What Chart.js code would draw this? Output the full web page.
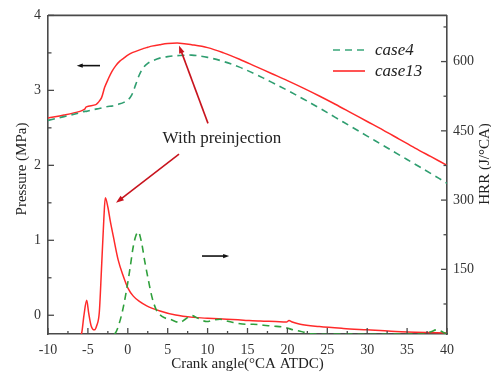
<!DOCTYPE html>
<html>
<head>
<meta charset="utf-8">
<script src="https://cdn.jsdelivr.net/npm/chart.js@4.4.1/dist/chart.umd.min.js"></script>
<style>
  html, body { margin: 0; padding: 0; background: #fff; }
  #wrap { width: 491px; height: 378px; }
</style>
</head>
<body>
<div id="wrap"><canvas id="chart"></canvas></div>
<script>
// Cylinder pressure, left axis (MPa)
const anglePressure = [-10, -8, -6, -5.4, -5.2, -4, -3.7, -3.3, -2.9, -2.5, -2, -1.5, -1, -0.5, 0, 0.5, 1, 1.5, 2, 2.5, 3, 4, 5, 6.5, 8, 10, 12, 14, 16, 18, 20, 22, 24, 26, 28, 30, 32, 34, 36, 38, 40];
const pressureCase4 = [2.60, 2.65, 2.70, 2.72, 2.72, 2.75, 2.755, 2.765, 2.775, 2.785, 2.79, 2.805, 2.82, 2.84, 2.87, 2.94, 3.08, 3.22, 3.31, 3.36, 3.39, 3.43, 3.45, 3.465, 3.47, 3.44, 3.385, 3.31, 3.215, 3.11, 3.00, 2.885, 2.765, 2.64, 2.515, 2.39, 2.265, 2.14, 2.015, 1.89, 1.76];
const pressureCase13 = [2.63, 2.67, 2.72, 2.75, 2.78, 2.81, 2.84, 2.90, 3.04, 3.14, 3.25, 3.33, 3.39, 3.43, 3.47, 3.50, 3.52, 3.54, 3.56, 3.575, 3.59, 3.61, 3.625, 3.63, 3.61, 3.57, 3.50, 3.415, 3.32, 3.225, 3.13, 3.03, 2.925, 2.815, 2.70, 2.585, 2.47, 2.35, 2.23, 2.115, 2.00];

// Heat release rate, right axis (J/°CA)
const angleHrrCase4 = [-3, -1.6, -0.8, -0.14, 0.3, 0.69, 1.0, 1.32, 1.7, 2.16, 2.6, 3.0, 3.5, 3.95, 4.6, 5.3, 6.5, 7.2, 8.0, 8.8, 9.9, 10.7, 11.55, 12.4, 13.2, 14.9, 15.7, 17, 18.2, 19.5, 20.5, 21.6, 22.8, 24, 30, 37, 38, 38.7, 39.5, 40];
const hrrCase4 = [0, 11, 50, 107, 155, 200, 222, 231, 210, 164, 125, 92, 65, 53, 45, 42, 35, 42, 50, 44, 37, 40, 42, 38, 35, 31, 31, 29, 27, 25, 20, 16, 11, 9, 9, 10, 15, 19, 14, 10];
const angleHrrCase13 = [-6.5, -5.8, -5.5, -5.15, -4.9, -4.6, -4.2, -3.9, -3.57, -3.3, -3.0, -2.82, -2.5, -2.2, -1.82, -1.2, -0.56, 0, 0.69, 1.5, 2.37, 4.04, 6, 8.2, 10, 12.4, 14.5, 16.6, 18.5, 19.9, 20.2, 20.6, 21.6, 24, 27, 30, 33, 36, 40];
const hrrCase13 = [0, 11, 50, 83, 55, 28, 19, 28, 57, 150, 260, 305, 285, 255, 222, 170, 135, 110, 92, 80, 71, 60, 51, 46, 44, 42, 40, 38, 37, 36, 39, 36, 31, 26, 22, 19, 16, 14, 12];

// Axis ticks
const xTicks = [-10, -7.5, -5, -2.5, 0, 2.5, 5, 7.5, 10, 12.5, 15, 17.5, 20, 22.5, 25, 27.5, 30, 32.5, 35, 37.5, 40];
const pressureTicks = [0, 0.5, 1, 1.5, 2, 2.5, 3, 3.5, 4];
const hrrTicks = [75, 150, 225, 300, 375, 450, 525, 600, 675];

const seriesNames = ['case4', 'case13'];

const RED = '#ff2a2a';
const GREEN_P = '#2f9e70';
const GREEN_H = '#2fa03c';
const AXIS = '#4a4a4a';
const TEXT = '#222';
const SERIF = "'Liberation Serif', 'Times New Roman', serif";

function pairs(xs, ys) {
  return xs.map((x, i) => ({ x: x, y: ys[i] }));
}

// annotation positions in data units (x, pressure)
const notes = {
  label: { x: 11.8, y: 2.36, text: 'With preinjection' },
  arrows: [
    { from: [10.05, 2.56], to: [6.42, 3.60], color: '#c8141e', head: 8 },
    { from: [6.42, 2.15], to: [-1.48, 1.50], color: '#c8141e', head: 8 },
    { from: [-3.48, 3.33], to: [-6.4, 3.33], color: '#111', head: 6 },
    { from: [9.3, 0.79], to: [12.7, 0.79], color: '#111', head: 6 },
  ],
};

function drawArrow(ctx, x1, y1, x2, y2, color, head) {
  const ang = Math.atan2(y2 - y1, x2 - x1);
  ctx.save();
  ctx.strokeStyle = color;
  ctx.fillStyle = color;
  ctx.lineWidth = 1.6;
  ctx.beginPath();
  ctx.moveTo(x1, y1);
  ctx.lineTo(x2 - Math.cos(ang) * head * 0.6, y2 - Math.sin(ang) * head * 0.6);
  ctx.stroke();
  ctx.beginPath();
  ctx.moveTo(x2, y2);
  ctx.lineTo(x2 - head * Math.cos(ang) + head * 0.35 * Math.sin(ang), y2 - head * Math.sin(ang) - head * 0.35 * Math.cos(ang));
  ctx.lineTo(x2 - head * Math.cos(ang) - head * 0.35 * Math.sin(ang), y2 - head * Math.sin(ang) + head * 0.35 * Math.cos(ang));
  ctx.closePath();
  ctx.fill();
  ctx.restore();
}

const decorations = {
  id: 'decorations',
  afterDraw(chart) {
    const { ctx, chartArea: area, scales } = chart;
    const xs = scales.x, yl = scales.y, yr = scales.y1;

    // top frame line
    ctx.save();
    ctx.strokeStyle = AXIS;
    ctx.lineWidth = 1.6;
    ctx.beginPath();
    ctx.moveTo(area.left, area.top);
    ctx.lineTo(area.right, area.top);
    ctx.stroke();

    // inward tick marks, long for labelled ticks
    ctx.lineWidth = 1.3;
    xs.ticks.forEach((t) => {
      const px = xs.getPixelForValue(t.value);
      const len = t.value % 5 === 0 ? 6 : 3;
      ctx.beginPath();
      ctx.moveTo(px, area.bottom);
      ctx.lineTo(px, area.bottom - len);
      ctx.stroke();
    });
    yl.ticks.forEach((t) => {
      const py = yl.getPixelForValue(t.value);
      const len = t.value % 1 === 0 ? 6 : 3.5;
      ctx.beginPath();
      ctx.moveTo(area.left, py);
      ctx.lineTo(area.left + len, py);
      ctx.stroke();
    });
    yr.ticks.forEach((t) => {
      const py = yr.getPixelForValue(t.value);
      const len = t.value % 150 === 0 ? 6 : 3.5;
      ctx.beginPath();
      ctx.moveTo(area.right, py);
      ctx.lineTo(area.right - len, py);
      ctx.stroke();
    });
    ctx.restore();

    // axis titles drawn by hand so the right one reads upwards
    ctx.save();
    ctx.font = '15px ' + SERIF;
    ctx.fillStyle = TEXT;
    ctx.textAlign = 'center';
    ctx.textBaseline = 'middle';
    ctx.translate(485, 164);
    ctx.rotate(-Math.PI / 2);
    ctx.fillText('HRR (J/°CA)', 0, 0);
    ctx.restore();

    ctx.save();
    ctx.font = '15px ' + SERIF;
    ctx.fillStyle = TEXT;
    ctx.textAlign = 'center';
    ctx.textBaseline = 'middle';
    ctx.translate(22, 169);
    ctx.rotate(-Math.PI / 2);
    ctx.fillText('Pressure (MPa)', 0, 0);
    ctx.restore();

    // legend
    ctx.save();
    const legendRows = [
      { name: seriesNames[0], color: '#3aa679', dash: [7, 5], y: 50 },
      { name: seriesNames[1], color: RED, dash: [], y: 71 },
    ];
    legendRows.forEach((row) => {
      ctx.strokeStyle = row.color;
      ctx.lineWidth = 1.6;
      ctx.setLineDash(row.dash);
      ctx.beginPath();
      ctx.moveTo(333, row.y);
      ctx.lineTo(365, row.y);
      ctx.stroke();
      ctx.setLineDash([]);
      ctx.font = 'italic 17px ' + SERIF;
      ctx.fillStyle = TEXT;
      ctx.textBaseline = 'middle';
      ctx.fillText(row.name, 375, row.y + 1);
    });
    ctx.restore();

    // annotations
    ctx.save();
    ctx.font = '17px ' + SERIF;
    ctx.fillStyle = TEXT;
    ctx.textAlign = 'center';
    ctx.textBaseline = 'middle';
    ctx.fillText(notes.label.text, xs.getPixelForValue(notes.label.x), yl.getPixelForValue(notes.label.y));
    ctx.restore();
    notes.arrows.forEach((a) => {
      drawArrow(ctx,
        xs.getPixelForValue(a.from[0]), yl.getPixelForValue(a.from[1]),
        xs.getPixelForValue(a.to[0]), yl.getPixelForValue(a.to[1]),
        a.color, a.head);
    });
  },
};

const tickFont = { family: SERIF, size: 14 };

new Chart(document.getElementById('chart'), {
  type: 'line',
  data: {
    datasets: [
      {
        label: seriesNames[0],
        data: pairs(anglePressure, pressureCase4),
        yAxisID: 'y',
        borderColor: GREEN_P,
        borderDash: [7, 5],
        borderWidth: 1.6,
        pointRadius: 0,
        tension: 0.35,
      },
      {
        label: seriesNames[1],
        data: pairs(anglePressure, pressureCase13),
        yAxisID: 'y',
        borderColor: RED,
        borderWidth: 1.5,
        pointRadius: 0,
        tension: 0.35,
      },
      {
        label: seriesNames[0] + ' HRR',
        data: pairs(angleHrrCase4, hrrCase4),
        yAxisID: 'y1',
        borderColor: GREEN_H,
        borderDash: [7, 5],
        borderWidth: 1.6,
        pointRadius: 0,
        cubicInterpolationMode: 'monotone',
      },
      {
        label: seriesNames[1] + ' HRR',
        data: pairs(angleHrrCase13, hrrCase13),
        yAxisID: 'y1',
        borderColor: RED,
        borderWidth: 1.5,
        pointRadius: 0,
        cubicInterpolationMode: 'monotone',
      },
    ],
  },
  options: {
    responsive: true,
    maintainAspectRatio: false,
    animation: false,
    devicePixelRatio: 1,
    layout: { padding: { top: 15, left: 0, right: 0, bottom: 0 } },
    plugins: {
      legend: { display: false },
      tooltip: { enabled: false },
    },
    scales: {
      x: {
        type: 'linear',
        min: -10,
        max: 40,
        afterBuildTicks: (s) => { s.ticks = xTicks.map((v) => ({ value: v })); },
        afterFit: (s) => { s.height = 44; },
        ticks: {
          autoSkip: false,
          maxRotation: 0,
          padding: 8,
          font: tickFont,
          color: '#333',
          callback: (v) => (v % 5 === 0 ? String(v) : ''),
        },
        grid: { drawOnChartArea: false, drawTicks: false },
        border: { color: AXIS, width: 1.6 },
        title: {
          display: true,
          text: 'Crank angle(°CA ATDC)',
          font: { family: SERIF, size: 15 },
          color: TEXT,
          padding: { top: 0, bottom: 5 },
        },
      },
      y: {
        position: 'left',
        min: -0.25,
        max: 4,
        afterBuildTicks: (s) => { s.ticks = pressureTicks.map((v) => ({ value: v })); },
        afterFit: (s) => { s.width = 48; },
        ticks: {
          padding: 7,
          font: tickFont,
          color: '#333',
          callback: (v) => (v % 1 === 0 ? String(v) : ''),
        },
        grid: { drawOnChartArea: false, drawTicks: false },
        border: { color: AXIS, width: 1.6 },
      },
      y1: {
        position: 'right',
        min: 10,
        max: 700,
        afterBuildTicks: (s) => { s.ticks = hrrTicks.map((v) => ({ value: v })); },
        afterFit: (s) => { s.width = 44; },
        ticks: {
          padding: 6,
          font: tickFont,
          color: '#333',
          callback: (v) => (v % 150 === 0 ? String(v) : ''),
        },
        grid: { drawOnChartArea: false, drawTicks: false },
        border: { color: AXIS, width: 1.6 },
      },
    },
  },
  plugins: [decorations],
});
</script>
</body>
</html>
